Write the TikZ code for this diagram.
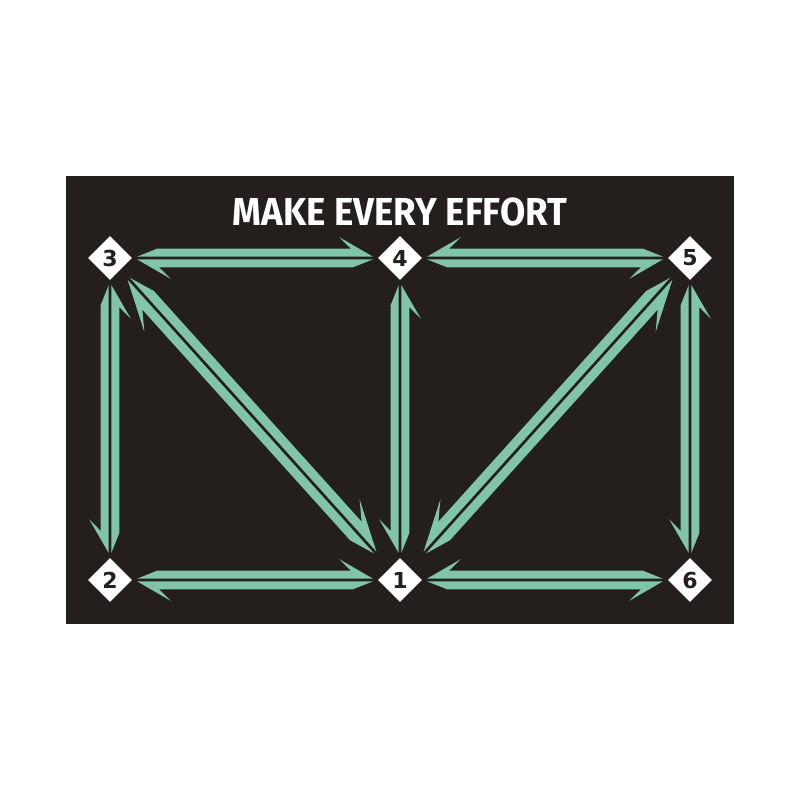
\documentclass[tikz,border=0pt]{standalone}
\usepackage{fontspec}
\usetikzlibrary{calc,shapes.geometric}
\newfontfamily\titlefont{Fira Sans}
\newfontfamily\numfont{DejaVu Sans}
\definecolor{board}{HTML}{241F1C}
\definecolor{mint}{HTML}{80C4AA}
\tikzset{
  station/.style={shape=diamond, fill=white, minimum width=44pt, minimum height=44pt,
    inner sep=0pt, font=\numfont\bfseries\fontsize{22}{22}\selectfont, text=board},
  titletext/.style={inner sep=0pt, text=white, font=\titlefont\bfseries\fontsize{39}{39}\selectfont},
  arrowfill/.style={fill=mint},
}
\newcommand\setHV{\def\ag{1.3pt}\def\agw{9.3pt}\def\as{20pt}\def\ac{22pt}\def\ab{34pt}\def\ah{21pt}}
\newcommand\setDG{\def\ag{1.5pt}\def\agw{10.5pt}\def\as{26pt}\def\ac{32pt}\def\ab{50pt}\def\ah{24pt}}
% half arrow from #1 (tail) to #2 (tip), offset side by angle #3, #4 = -#3
\newcommand\halfarr[4]{\fill[arrowfill] ($(#1)!\ag!#3:(#2)$) -- ($(#1)!\as!(#2)!\agw!#3:(#2)$)
  -- ($(#2)!\ac!(#1)!\agw!#4:(#1)$) -- ($(#2)!\ab!(#1)!\ah!#4:(#1)$) -- ($(#2)!\ag!#4:(#1)$) -- cycle;}
\newcommand\link[6]{%
  \coordinate (#1-#2-s) at ($(#1)!#3!(#2)$);
  \coordinate (#1-#2-e) at ($(#2)!#4!(#1)$);
  \halfarr{#1-#2-s}{#1-#2-e}{#5}{#6}
  \halfarr{#1-#2-e}{#1-#2-s}{#5}{#6}}
\begin{document}
\begin{tikzpicture}[x=1pt,y=-1pt]
\useasboundingbox (0,0) rectangle (800,800);
\fill[white] (0,0) rectangle (800,800);
\fill[board] (66,176) rectangle (734,624);
% station positions (nodes drawn later on top)
\coordinate (p3) at (110,258);
\coordinate (p4) at (400,258);
\coordinate (p5) at (690,258);
\coordinate (p2) at (110,580);
\coordinate (p1) at (400,580);
\coordinate (p6) at (690,580);
\setHV
\link{p3}{p4}{27pt}{27pt}{90}{-90}
\link{p4}{p5}{27pt}{27pt}{-90}{90}
\link{p2}{p1}{27pt}{27pt}{90}{-90}
\link{p1}{p6}{27pt}{27pt}{-90}{90}
\link{p3}{p2}{27pt}{27pt}{-90}{90}
\link{p4}{p1}{27pt}{27pt}{-90}{90}
\link{p5}{p6}{27pt}{27pt}{-90}{90}
\setDG
\link{p3}{p1}{28pt}{37pt}{90}{-90}
\link{p5}{p1}{28pt}{37pt}{-90}{90}
\node[station] (n3) at (p3) {3};
\node[station] (n4) at (p4) {4};
\node[station] (n5) at (p5) {5};
\node[station] (n2) at (p2) {2};
\node[station] (n1) at (p1) {1};
\node[station] (n6) at (p6) {6};
\node[titletext] (title) at (400,211.5) {\scalebox{0.94}[1]{MAKE EVERY EFFORT}};
\end{tikzpicture}
\end{document}
